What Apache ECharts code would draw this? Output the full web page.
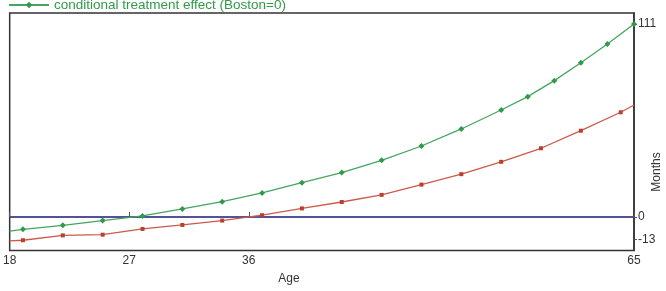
<!DOCTYPE html>
<html>
<head>
<meta charset="utf-8">
<script src="https://cdn.jsdelivr.net/npm/echarts@6/dist/echarts.min.js"></script>
<style>
  html, body { margin: 0; padding: 0; background: #fff; }
  #chart { width: 666px; height: 291px; }
</style>
</head>
<body>
<div id="chart"></div>
<script>
// ages where the green (conditional) series has points
const greenAges = [18, 19, 22, 25, 28, 31, 34, 37, 40, 43, 46, 49, 52, 55, 57, 59, 61, 63, 65]
const greenValues = [-8.1, -7.1, -4.8, -2.1, 0.6, 4.6, 8.8, 13.8, 19.7, 25.5, 32.6, 40.8, 50.6, 61.5, 69.2, 78.4, 88.7, 99.5, 111]

// ages where the red series has points
const redAges = [18, 19, 22, 25, 28, 31, 34, 37, 40, 43, 46, 49, 52, 55, 58, 61, 64, 65]
const redValues = [-13.8, -13.4, -10.6, -10.2, -6.9, -4.6, -2.1, 1.0, 4.9, 8.6, 12.7, 18.6, 24.6, 31.7, 39.5, 49.6, 60.2, 64.4]

const zeroAges = [18, 65]
const zeroValues = [0, 0]

const xTicks = [18, 27, 36, 65]
const yTicks = [-13, 0, 111]

const greenName = "conditional treatment effect (Boston=0)"

let myChart = echarts.init(document.getElementById("chart"))

// first/last points of a line can go without a marker
const pairs = (xs, ys, noMark) =>
  xs.map((x, i) => {
    const item = { value: [x, ys[i]] }
    if (noMark.includes(i)) item.symbol = "none"
    return item
  })

myChart.setOption({
  animation: false,
  textStyle: { fontFamily: "Liberation Sans, Arial, sans-serif" },
  legend: {
    data: [greenName],
    left: 3,
    top: -7,
    itemWidth: 40,
    itemHeight: 8,
    itemGap: 6,
    textStyle: { color: "#2f9a4a", fontSize: 13.5 },
  },
  grid: {
    left: 7,
    right: 32,
    top: 13,
    bottom: 40.5,
    show: true,
    borderColor: "#333",
    borderWidth: 1.5,
  },
  xAxis: {
    type: "value",
    min: 18,
    max: 65,
    splitLine: { show: false },
    axisLine: { show: true, lineStyle: { color: "#333", width: 1.5 } },
    axisTick: { show: true, inside: true, length: 5, customValues: xTicks, lineStyle: { color: "#555" } },
    axisLabel: { customValues: xTicks, color: "#333", fontSize: 12, margin: 4 },
  },
  yAxis: {
    type: "value",
    position: "right",
    min: -19.3,
    max: 117.3,
    splitLine: { show: false },
    axisLine: { show: true, lineStyle: { color: "#333", width: 1.5 } },
    axisTick: { show: true, length: 3, customValues: yTicks, lineStyle: { color: "#555" } },
    axisLabel: { customValues: yTicks, color: "#333", fontSize: 12, margin: 4 },
  },
  graphic: [
    {
      type: "text",
      x: 289,
      y: 279,
      style: { text: "Age", fill: "#333", font: "12px Liberation Sans, Arial, sans-serif", align: "center", verticalAlign: "middle" },
    },
    {
      type: "text",
      x: 657,
      y: 172,
      rotation: Math.PI / 2,
      style: { text: "Months", fill: "#333", font: "12px Liberation Sans, Arial, sans-serif", align: "center", verticalAlign: "middle" },
    },
  ],
  series: [
    {
      name: "zero",
      type: "line",
      data: pairs(zeroAges, zeroValues, [0, 1]),
      symbol: "none",
      lineStyle: { color: "#4e4ea6", width: 1.5 },
      z: 1,
    },
    {
      name: "unconditional treatment effect",
      type: "line",
      data: pairs(redAges, redValues, [0, redAges.length - 1]),
      symbol: "rect",
      symbolSize: 4,
      itemStyle: { color: "#b8402e" },
      lineStyle: { color: "#cc5a4a", width: 1.3 },
      z: 2,
    },
    {
      name: greenName,
      type: "line",
      data: pairs(greenAges, greenValues, [0]),
      symbol: "diamond",
      symbolSize: 6,
      itemStyle: { color: "#2f9a4a" },
      lineStyle: { color: "#45a560", width: 1.3 },
      z: 3,
    },
  ],
})

window.addEventListener("resize", () => {
  myChart.resize()
})
</script>
</body>
</html>
